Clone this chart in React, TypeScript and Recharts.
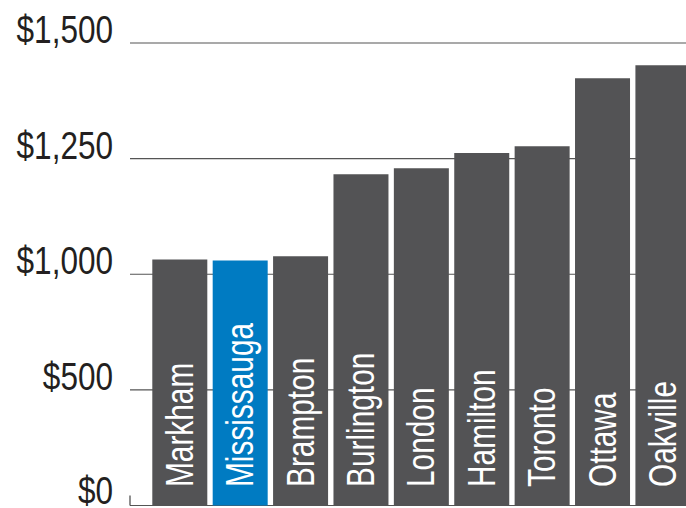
import { BarChart, Bar, XAxis, YAxis, CartesianGrid, Cell, LabelList } from "recharts";

const cities = [
  "Markham",
  "Mississauga",
  "Brampton",
  "Burlington",
  "London",
  "Hamilton",
  "Toronto",
  "Ottawa",
  "Oakville",
];
const rents = [1032, 1030, 1039, 1216, 1229, 1262, 1277, 1424, 1452];
const tickValues = [0, 500, 1000, 1250, 1500];
const tickLabels = ["$0", "$500", "$1,000", "$1,250", "$1,500"];
const highlight = "Mississauga";

// the axis is broken: 0-1000 takes the same room as 1000-1500
const toAxis = (v: number) => (v <= 1000 ? v / 500 : 2 + (v - 1000) / 250);

const data = cities.map((city, i) => ({ city, rent: rents[i], pos: toAxis(rents[i]) }));

// no narrow font installed, so squeeze Liberation Sans horizontally
const FONT = "'Liberation Sans', Arial, sans-serif";

const YTick = (props: any) => {
  const { x, y, payload, index } = props;
  return (
    <g>
      <text
        x={0}
        y={0}
        transform={`translate(${x}, ${y - (payload.value === 0 ? 2 : 0)}) scale(0.83, 1)`}
        textAnchor="end"
        fill="#231f20"
        fontSize={38}
        fontFamily={FONT}
      >
        {tickLabels[index]}
      </text>
      {payload.value === 0 && (
        <line x1={x + 17} x2={x + 17} y1={y - 10} y2={y} stroke="#444" strokeWidth={1.2} />
      )}
    </g>
  );
};

const BarName = (props: any) => {
  const vb = props.viewBox ?? props;
  const { x, y, width, height } = vb;
  const cx = x + width / 2 + 13;
  const cy = y + height - 18.5;
  return (
    <text
      x={0}
      y={0}
      transform={`translate(${cx}, ${cy}) rotate(-90) scale(0.785, 1)`}
      textAnchor="start"
      fill="#ffffff"
      fontSize={38}
      fontFamily={FONT}
    >
      {props.value}
    </text>
  );
};

export default function App() {
  return (
    <div
      style={{
        position: "fixed",
        left: 0,
        top: 0,
        width: 686,
        height: 508,
        overflow: "hidden",
        background: "#fff",
      }}
    >
      <BarChart
        width={693}
        height={508}
        data={data}
        margin={{ top: 43, right: 0, bottom: 2.5, left: 0 }}
        barCategoryGap={2.8}
      >
        <CartesianGrid vertical={false} stroke="#555" strokeWidth={1.2} />
        <XAxis dataKey="city" type="category" hide padding={{ left: 19.5, right: 0 }} />
        <YAxis
          type="number"
          width={130}
          domain={[0, 4]}
          ticks={tickValues.map(toAxis)}
          axisLine={false}
          tickLine={false}
          tickSize={0}
          tickMargin={17}
          tick={<YTick />}
          interval={0}
        />
        <Bar dataKey="pos" isAnimationActive={false}>
          {data.map((d) => (
            <Cell key={d.city} fill={d.city === highlight ? "#007bc2" : "#535355"} />
          ))}
          <LabelList dataKey="city" content={<BarName />} />
        </Bar>
      </BarChart>
    </div>
  );
}
